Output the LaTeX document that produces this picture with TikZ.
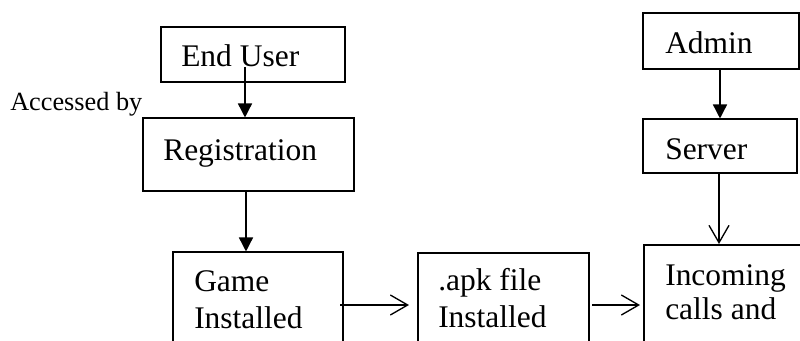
\documentclass[tikz,border=0pt]{standalone}
\usepackage{fontspec}
\setmainfont{Liberation Serif}
\usetikzlibrary{arrows.meta}
\begin{document}
\begin{tikzpicture}[x=0.75pt,y=-0.75pt,
  box/.style={draw, line width=0.8pt, inner sep=0pt},
  lbl/.style={anchor=base west, inner sep=0pt, font=\fontsize{23.6pt}{28pt}\selectfont},
  small/.style={anchor=base west, inner sep=0pt, font=\fontsize{19.7pt}{24pt}\selectfont},
  farrow/.style={line width=1.1pt, -{Triangle[length=10.5pt,width=10.5pt]}},
  oarrow/.style={line width=1pt, -{Straight Barb[length=13pt,width=15pt,line width=1pt]}}]
\useasboundingbox (0,0) rectangle (800,340);
\clip (0,0) rectangle (800,340);
% boxes
\node[box, minimum width=184*0.75pt, minimum height=55*0.75pt] (user) at (253,54.5) {};
\node[box, minimum width=211*0.75pt, minimum height=73*0.75pt] (reg) at (248.5,154.5) {};
\node[box, minimum width=156*0.75pt, minimum height=56*0.75pt] (admin) at (721,41) {};
\node[box, minimum width=154*0.75pt, minimum height=54*0.75pt] (server) at (720,146) {};
\node[box, minimum width=170*0.75pt, minimum height=148*0.75pt] (game) at (258,326) {};
\node[box, minimum width=171*0.75pt, minimum height=147*0.75pt] (apk) at (503.5,326.5) {};
\node[box, minimum width=200*0.75pt, minimum height=155*0.75pt] (inc) at (744,322.5) {};
% labels
\node[lbl] (tuser) at (181,66) {End User};
\node[small] (tacc) at (10,110) {Accessed by};
\node[lbl] (treg) at (163,160) {Registration};
\node[lbl] (tadmin) at (665,53) {Admin};
\node[lbl] (tserver) at (665,159) {Server};
\node[lbl] (tgame1) at (194,291) {Game};
\node[lbl] (tgame2) at (194,328) {Installed};
\node[lbl] (tapk1) at (438,290) {.apk file};
\node[lbl] (tapk2) at (438,327) {Installed};
\node[lbl] (tinc1) at (665,285) {Incoming};
\node[lbl] (tinc2) at (665,319) {calls and};
% connectors
\coordinate (ustart) at (245,67);
\draw[farrow] (ustart) -- (ustart |- reg.north);
\coordinate (rstart) at (246,191);
\draw[farrow] (rstart) -- (rstart |- game.north);
\coordinate (astart) at (720,69);
\draw[farrow] (astart) -- (astart |- server.north);
\coordinate (sstart) at (719,173);
\coordinate (send) at (719,244);
\draw[oarrow] (sstart) -- (send);
\coordinate (gstart) at (340,305);
\coordinate (gend) at (409,305);
\draw[oarrow] (gstart) -- (gend);
\coordinate (pstart) at (592,305);
\coordinate (pend) at (640,305);
\draw[oarrow] (pstart) -- (pend);
\end{tikzpicture}
\end{document}
